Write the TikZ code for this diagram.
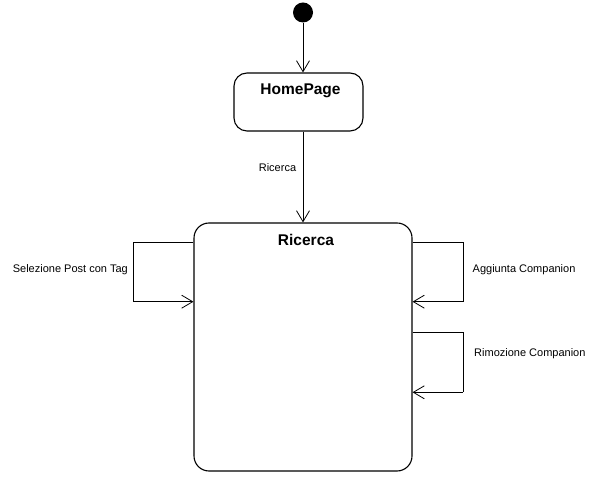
\documentclass[tikz,border=0pt]{standalone}
\usepackage{fontspec}
\setmainfont{Liberation Sans}
\usetikzlibrary{arrows.meta,calc}

\begin{document}
\begin{tikzpicture}[x=1pt, y=1pt,
    state/.style={draw, line width=1.1pt, rounded corners=13pt, inner sep=0pt},
    trans/.style={line width=0.8pt, -{Straight Barb[length=11pt, width=13pt, line width=0.8pt]}},
    loop/.style={line width=0.8pt},
    title/.style={font=\fontsize{15.5}{18}\selectfont\bfseries, inner sep=0pt, anchor=base},
    lbl/.style={font=\fontsize{11}{13}\selectfont, inner sep=0pt}]
    \useasboundingbox (0,0) rectangle (599,476);

    \node[circle, fill=black, minimum size=20pt, inner sep=0pt] (start) at (303,463.5) {};
    \node[state, minimum width=129pt, minimum height=58pt] (home) at (298.5,374) {};
    \node[state, minimum width=218pt, minimum height=248pt, rounded corners=15pt] (rc) at (303,129) {};

    \node[title] (homeTitle) at (300.5,381) {HomePage};
    \node[title] (rcTitle) at (306,230) {Ricerca};

    \coordinate (selTop) at (133,233.3);
    \coordinate (selBot) at (133,174.3);
    \coordinate (aggTop) at (463,233.3);
    \coordinate (aggBot) at (463,174.3);
    \coordinate (rimTop) at (463,143.3);
    \coordinate (rimBot) at (463,83.7);

    \draw[trans] (start.south) -- (start.south |- home.north);
    \draw[trans] (rc.north |- home.south) -- (rc.north);
    \node[lbl] (ricLbl) at (277.5,308) {Ricerca};

    \draw[loop] (rc.west |- selTop) -- (selTop) -- (selBot);
    \draw[trans] (selBot) -- (rc.west |- selBot);
    \node[lbl, anchor=east] (selLbl) at (128,206) {Selezione Post con Tag};

    \draw[loop] (rc.east |- aggTop) -- (aggTop) -- (aggBot);
    \draw[trans] (aggBot) -- (rc.east |- aggBot);
    \node[lbl, anchor=west] (aggLbl) at (472.5,206) {Aggiunta Companion};

    \draw[loop] (rc.east |- rimTop) -- (rimTop) -- (rimBot);
    \draw[trans] (rimBot) -- (rc.east |- rimBot);
    \node[lbl, anchor=west] (rimLbl) at (474,122) {Rimozione Companion};
\end{tikzpicture}
\end{document}
